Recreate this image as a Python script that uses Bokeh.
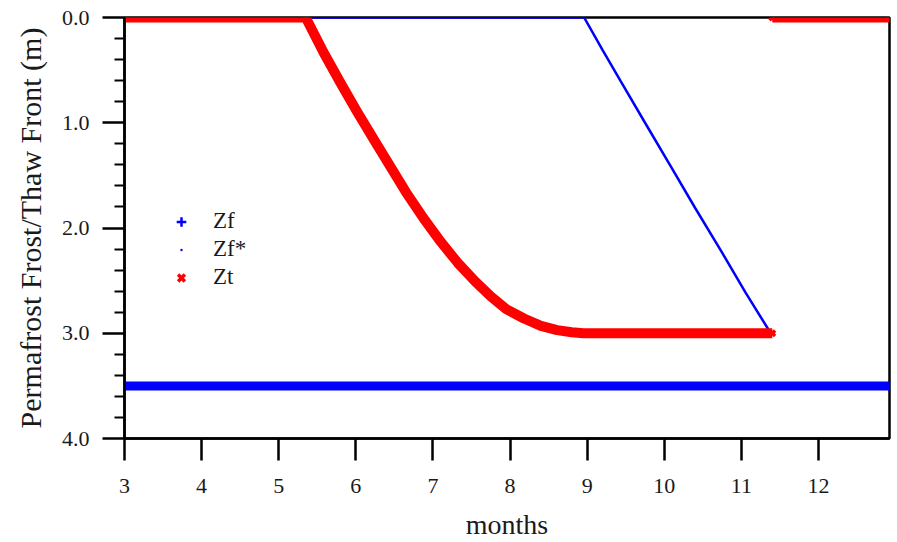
import math
from bokeh.plotting import figure
from bokeh.models import Range1d, FixedTicker, PrintfTickFormatter, Legend, LegendItem
from bokeh.embed import file_html
from bokeh.resources import INLINE

nan = math.nan

# ---- data ----
x_ticks = [3, 4, 5, 6, 7, 8, 9, 10, 11, 12]
y_ticks = [0.0, 1.0, 2.0, 3.0, 4.0]
y_minor_ticks = [0.2, 0.4, 0.6, 0.8, 1.2, 1.4, 1.6, 1.8, 2.2, 2.4, 2.6, 2.8,
                 3.2, 3.4, 3.6, 3.8]

# Zf : permafrost frost front
zf_month = [3.0, 12.92]
zf_depth = [3.5, 3.5]

# Zf* : frost front (refreezing)
zfs_month = [3.0, 8.96, 9.2, 9.43, 9.75, 10.08, 10.4, 10.73, 11.05, 11.38]
zfs_depth = [0.0, 0.0, 0.31, 0.60, 1.00, 1.41, 1.81, 2.21, 2.61, 3.0]

# Zt : thaw front (NaN separates the reset to 0 after refreeze)
zt_month = [3.0, 5.35, 5.58, 5.8, 6.02, 6.25, 6.45, 6.65, 6.88, 7.1, 7.32, 7.55,
            7.75, 7.95, 8.18, 8.4, 8.61, 8.8, 8.95, 11.4, nan, 11.4, 12.92]
zt_depth = [0.0, 0.0, 0.33, 0.62, 0.90, 1.18, 1.42, 1.66, 1.91, 2.13, 2.33, 2.51,
            2.65, 2.77, 2.86, 2.93, 2.97, 2.99, 3.0, 3.0, nan, 0.0, 0.0]

FONT = "Liberation Serif"
TXT = "#1a1a1a"

p = figure(width=897, height=542, output_backend="svg", toolbar_location=None,
           x_range=Range1d(3.0, 12.92), y_range=Range1d(4.0, 0.0),
           min_border_left=124, min_border_right=8, min_border_top=17,
           min_border_bottom=104)

p.background_fill_color = "white"
p.border_fill_color = "white"
p.grid.visible = False
p.outline_line_color = "black"
p.outline_line_width = 2.5

# axes
xa = p.xaxis[0]
ya = p.yaxis[0]
xa.ticker = FixedTicker(ticks=x_ticks)
ya.ticker = FixedTicker(ticks=y_ticks, minor_ticks=y_minor_ticks)
ya.formatter = PrintfTickFormatter(format="%.1f")
for ax in (xa, ya):
    ax.axis_line_color = "black"
    ax.axis_line_width = 2.5
    ax.major_tick_line_color = "black"
    ax.major_tick_line_width = 2.5
    ax.major_tick_in = 0
    ax.major_tick_out = 22
    ax.minor_tick_in = 0
    ax.minor_tick_out = 10
    ax.minor_tick_line_width = 2
    ax.minor_tick_line_color = "black"
    ax.major_label_text_font = FONT
    ax.major_label_text_font_size = "22px"
    ax.major_label_text_color = TXT
    ax.axis_label_text_font = FONT
    ax.axis_label_text_font_style = "normal"
    ax.axis_label_text_color = TXT
xa.major_label_standoff = 18
ya.major_label_standoff = 13
xa.minor_tick_line_color = None
xa.axis_label = "months"
xa.axis_label_text_font_size = "28px"
xa.axis_label_standoff = 13
ya.axis_label = "Permafrost Frost/Thaw Front (m)"
ya.axis_label_text_font_size = "30px"
ya.axis_label_standoff = 12

BLUE = "#0000ff"
RED = "#ff0000"

# marker renderers (series points)
r_zf_pts = p.scatter(zf_month, zf_depth, marker="cross", size=10, line_width=2.5,
                     color=BLUE)
r_zfs_pts = p.scatter(zfs_month, zfs_depth, marker="dot", size=4, color=BLUE,
                      line_width=3)
r_zt_pts = p.scatter(zt_month, zt_depth, marker="x", size=8, line_width=3.5,
                     color=RED)

# dense traces
p.line(zf_month, zf_depth, line_color=BLUE, line_width=9)
p.line(zfs_month, zfs_depth, line_color=BLUE, line_width=2.5)
p.line(zt_month, zt_depth, line_color=RED, line_width=10, line_join="round")

legend = Legend(items=[LegendItem(label="Zf", renderers=[r_zf_pts]),
                       LegendItem(label="Zf*", renderers=[r_zfs_pts]),
                       LegendItem(label="Zt", renderers=[r_zt_pts])],
                location=(45, 148), orientation="vertical")
legend.background_fill_alpha = 0
legend.border_line_color = None
legend.padding = 0
legend.margin = 0
legend.spacing = 2
legend.glyph_width = 24
legend.glyph_height = 25
legend.label_height = 25
legend.label_standoff = 20
legend.label_text_font = FONT
legend.label_text_font_size = "23px"
legend.label_text_color = TXT
legend.label_text_baseline = "middle"
p.add_layout(legend, "center")

open("out.html", "w").write(file_html(p, INLINE))
